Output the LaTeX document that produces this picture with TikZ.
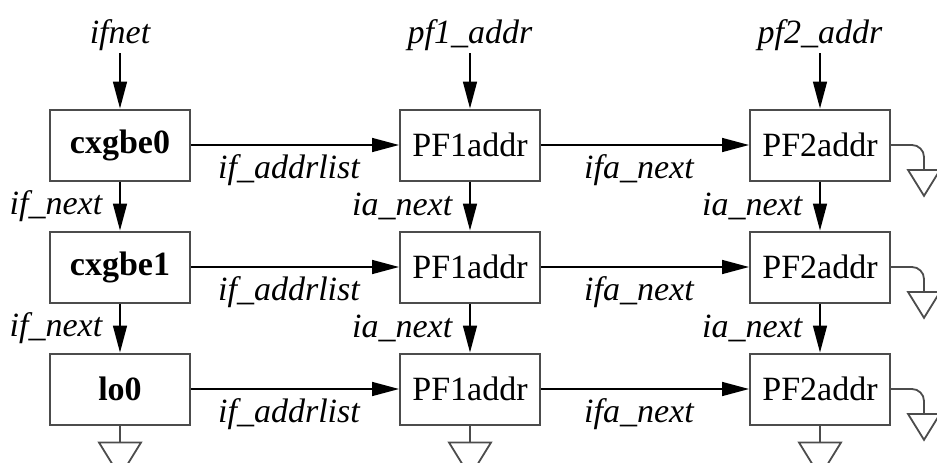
\documentclass[tikz,border=0pt]{standalone}
\usepackage{fontspec}
\setmainfont{Liberation Serif}
\usetikzlibrary{arrows.meta}
\newcommand\ifsize{\fontsize{34}{40}\selectfont}
\tikzset{earth/.pic={\draw[gnd] (-21,0) -- (21,0) -- (0,34) -- cycle;}}
\begin{document}
\begin{tikzpicture}[x=1pt, y=-1pt, every node/.style={font=\ifsize},
    blk/.style={draw=black!70, line width=2pt, minimum width=140pt, minimum height=71pt, inner sep=0pt},
    nic/.style={blk, font=\ifsize\bfseries},
    lbl/.style={font=\ifsize\itshape, inner sep=3pt},
    link/.style={-{Triangle[length=27pt,width=14pt]}, line width=1.6pt},
    gnd/.style={draw=black!70, line width=1.8pt}]
  \useasboundingbox (0,0) rectangle (937,463);
  \clip (0,0) rectangle (937,463);
  % Interfaces
  \node[nic] (nic0) at (120,145) {cxgbe0};
  \node[nic] (nic1) at (120,267) {cxgbe1};
  \node[nic] (nic2) at (120,389) {lo0};
  % Address lists
  \node[blk] (pfa0) at (470,145) {PF1addr};
  \node[blk] (pfa1) at (470,267) {PF1addr};
  \node[blk] (pfa2) at (470,389) {PF1addr};
  \node[blk] (pfb0) at (820,145) {PF2addr};
  \node[blk] (pfb1) at (820,267) {PF2addr};
  \node[blk] (pfb2) at (820,389) {PF2addr};
  % Heads
  \node[lbl, anchor=base] (ifnet) at (120,43) {ifnet};
  \node[lbl, anchor=base] (pfhead1) at (470,43) {pf1\_addr};
  \node[lbl, anchor=base] (pfhead2) at (820,43) {pf2\_addr};
  \draw[link] (ifnet) -- (nic0);
  \draw[link] (pfhead1) -- (pfa0);
  \draw[link] (pfhead2) -- (pfb0);
  % Interface chain
  \draw[link] (nic0) -- node[lbl, left=14pt] {if\_next} (nic1);
  \draw[link] (nic1) -- node[lbl, left=14pt] {if\_next} (nic2);
  \draw[link] (pfa0) -- node[lbl, left=14pt] {ia\_next} (pfa1);
  \draw[link] (pfa1) -- node[lbl, left=14pt] {ia\_next} (pfa2);
  \draw[link] (pfb0) -- node[lbl, left=14pt] {ia\_next} (pfb1);
  \draw[link] (pfb1) -- node[lbl, left=14pt] {ia\_next} (pfb2);
  % Address chain
  \draw[link] (nic0) -- node[lbl, below=6pt, xshift=-6pt] {if\_addrlist} (pfa0);
  \draw[link] (nic1) -- node[lbl, below=6pt, xshift=-6pt] {if\_addrlist} (pfa1);
  \draw[link] (nic2) -- node[lbl, below=6pt, xshift=-6pt] {if\_addrlist} (pfa2);
  \draw[link] (pfa0) -- node[lbl, below=6pt, xshift=-6pt] {ifa\_next} (pfb0);
  \draw[link] (pfa1) -- node[lbl, below=6pt, xshift=-6pt] {ifa\_next} (pfb1);
  \draw[link] (pfa2) -- node[lbl, below=6pt, xshift=-6pt] {ifa\_next} (pfb2);
  % Null ends
  \draw[gnd] (nic2.south) -- ++(0,17) coordinate (gnic);
  \draw[gnd] (pfa2.south) -- ++(0,17) coordinate (gpfa);
  \draw[gnd] (pfb2.south) -- ++(0,17) coordinate (gpfb);
  \pic at (gnic) {earth};
  \pic at (gpfa) {earth};
  \pic at (gpfb) {earth};
  \draw[gnd, rounded corners=12pt] (pfb0.east) -| ++(33,25) coordinate (gend0);
  \draw[gnd, rounded corners=12pt] (pfb1.east) -| ++(33,25) coordinate (gend1);
  \draw[gnd, rounded corners=12pt] (pfb2.east) -| ++(33,25) coordinate (gend2);
  \pic[scale=0.76] at (gend0) {earth};
  \pic[scale=0.76] at (gend1) {earth};
  \pic[scale=0.76] at (gend2) {earth};
\end{tikzpicture}
\end{document}
